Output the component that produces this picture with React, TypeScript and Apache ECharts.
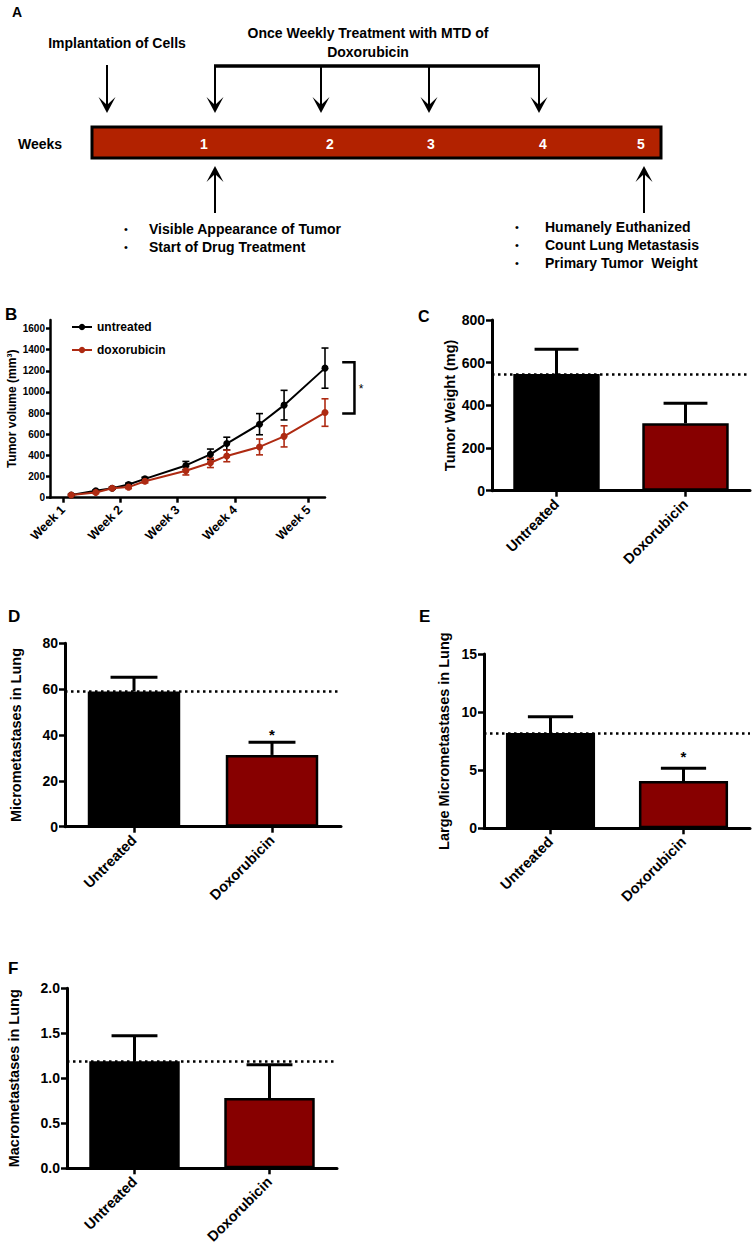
import React, { useEffect, useRef } from 'react';
import * as echarts from 'echarts';

// ---------- Panel B data ----------
const dayValues = [8, 11, 13, 15, 17, 22, 25, 27, 31, 34, 39];
const untreatedVolume = [25, 65, 90, 125, 178, 305, 410, 512, 695, 875, 1225];
const untreatedVolumeSem = [8, 10, 10, 12, 15, 38, 50, 60, 100, 140, 190];
const doxVolume = [25, 50, 90, 100, 155, 255, 330, 395, 480, 580, 805];
const doxVolumeSem = [8, 10, 10, 14, 15, 40, 45, 55, 75, 100, 130];
const weekTickDays = [7, 14, 21, 28, 37];
const weekLabels = ['Week 1', 'Week 2', 'Week 3', 'Week 4', 'Week 5'];
const volumeTicks = [0, 200, 400, 600, 800, 1000, 1200, 1400, 1600];
const bracketDays = [41.1, 42.6];
const bracketValues = [1280, 795];
const bracketStar = [43.4, 1027];

// ---------- Bar panels data ----------
const groups = ['Untreated', 'Doxorubicin'];
const tumorWeight = [547, 316];
const tumorWeightSem = [116, 94];
const micrometastases = [59, 31.3];
const micrometastasesSem = [6.2, 5.5];
const largeMicrometastases = [8.2, 4.07];
const largeMicrometastasesSem = [1.4, 1.09];
const macrometastases = [1.19, 0.78];
const macrometastasesSem = [0.283, 0.37];
const starD = 40.2;
const starE = 6.2;

// ---------- Timeline (panel A) labels ----------
const weekNumbers = ['1', '2', '3', '4', '5'];

const FONT = '"Liberation Sans", Arial, Helvetica, sans-serif';
const RED_LINE = '#AE2A12';
const RED_BAR = '#870000';
const TIMELINE_RED = '#B22200';

function arrowDown(x: number, y1: number, tip: number) {
  return [
    { type: 'line', shape: { x1: x, y1, x2: x, y2: tip - 6 }, style: { stroke: '#000', lineWidth: 2 } },
    {
      type: 'polygon',
      shape: { points: [[x, tip], [x - 8.5, tip - 16], [x, tip - 8], [x + 8.5, tip - 16]] },
      style: { fill: '#000' },
    },
  ];
}
function arrowUp(x: number, y1: number, tip: number) {
  return [
    { type: 'line', shape: { x1: x, y1, x2: x, y2: tip + 6 }, style: { stroke: '#000', lineWidth: 2 } },
    {
      type: 'polygon',
      shape: { points: [[x, tip], [x - 8.5, tip + 16], [x, tip + 8], [x + 8.5, tip + 16]] },
      style: { fill: '#000' },
    },
  ];
}
function txt(text: string, x: number, y: number, size: number, align = 'left', fill = '#000', weight = 'bold') {
  return {
    type: 'text',
    x,
    y,
    style: { text, fontSize: size, fontWeight: weight, fontFamily: FONT, fill, align, verticalAlign: 'middle' },
  };
}

type BarCfg = {
  left: number; top: number; width: number; height: number;
  max: number; interval: number; name: string; nameGap: number;
  values: number[]; sems: number[]; star?: number; decimals?: number;
};

function buildBarPanel(idx: number, cfg: BarCfg) {
  const grid = { left: cfg.left, top: cfg.top, width: cfg.width, height: cfg.height };
  const xAxis = {
    type: 'category', gridIndex: idx, data: groups,
    axisLine: { show: true, lineStyle: { color: '#000', width: 3 } },
    axisTick: { show: true, alignWithLabel: true, length: 6, lineStyle: { color: '#000', width: 2.5 } },
    axisLabel: { interval: 0, rotate: 45, fontSize: 14.5, fontWeight: 'bold', color: '#000', fontFamily: FONT, margin: 11 },
    splitLine: { show: false },
  };
  const yAxis = {
    type: 'value', gridIndex: idx, min: 0, max: cfg.max, interval: cfg.interval,
    axisLine: { show: true, lineStyle: { color: '#000', width: 3 } },
    axisTick: { show: true, length: 6, lineStyle: { color: '#000', width: 2.5 } },
    axisLabel: {
      fontSize: 14, fontWeight: 'bold', color: '#000', fontFamily: FONT, margin: 7,
      formatter: (v: number) => (cfg.decimals ? v.toFixed(cfg.decimals) : String(v)),
    },
    splitLine: { show: false },
    name: cfg.name, nameLocation: 'middle', nameGap: cfg.nameGap,
    nameTextStyle: { fontSize: 14.5, fontWeight: 'bold', color: '#000', fontFamily: FONT },
  };
  const series: any[] = [
    {
      type: 'bar', xAxisIndex: idx, yAxisIndex: idx,
      data: cfg.values.map((v, i) => ({ value: v, itemStyle: { color: i === 0 ? '#000' : RED_BAR } })),
      barWidth: '67%',
      itemStyle: { borderColor: '#000', borderWidth: 2.5 },
      markLine: {
        silent: true, symbol: ['none', 'none'], label: { show: false },
        lineStyle: { color: '#000', width: 2.5, type: [2.5, 3.5] },
        data: [{ yAxis: cfg.values[0] }],
      },
      z: 2,
    },
    {
      type: 'custom', xAxisIndex: idx, yAxisIndex: idx,
      data: cfg.values.map((v, i) => [i, v, cfg.sems[i]]),
      renderItem: (params: any, api: any) => {
        const x = api.value(0), m = api.value(1), e = api.value(2);
        const base = api.coord([x, m]);
        const top = api.coord([x, m + e]);
        const hw = api.size([1, 0])[0] * 0.17;
        const style = { stroke: '#000', lineWidth: 3 };
        return {
          type: 'group',
          children: [
            { type: 'line', shape: { x1: base[0], y1: base[1], x2: top[0], y2: top[1] }, style },
            { type: 'line', shape: { x1: top[0] - hw, y1: top[1], x2: top[0] + hw, y2: top[1] }, style },
          ],
        };
      },
      z: 3,
    },
  ];
  if (cfg.star !== undefined) {
    series.push({
      type: 'custom', xAxisIndex: idx, yAxisIndex: idx,
      data: [[1, cfg.star]],
      renderItem: (params: any, api: any) => {
        const p = api.coord([api.value(0), api.value(1)]);
        return {
          type: 'text', x: p[0], y: p[1],
          style: { text: '*', fontSize: 15, fontWeight: 'bold', fill: '#000', fontFamily: FONT, align: 'center', verticalAlign: 'middle' },
        };
      },
      z: 4,
    });
  }
  return { grid, xAxis, yAxis, series };
}

function errorRenderer(color: string) {
  return (params: any, api: any) => {
    const x = api.value(0), m = api.value(1), e = api.value(2);
    const p1 = api.coord([x, m + e]);
    const p2 = api.coord([x, m - e]);
    const hw = 3.5;
    const style = { stroke: color, lineWidth: 1.6 };
    return {
      type: 'group',
      children: [
        { type: 'line', shape: { x1: p1[0], y1: p1[1], x2: p2[0], y2: p2[1] }, style },
        { type: 'line', shape: { x1: p1[0] - hw, y1: p1[1], x2: p1[0] + hw, y2: p1[1] }, style },
        { type: 'line', shape: { x1: p2[0] - hw, y1: p2[1], x2: p2[0] + hw, y2: p2[1] }, style },
      ],
    };
  };
}

export default function App() {
  const ref = useRef<HTMLDivElement>(null);
  useEffect(() => {
    if (!ref.current) return;
    const chart = echarts.init(ref.current, undefined, { renderer: 'svg' });

    const panels = [
      buildBarPanel(1, { left: 492, top: 320, width: 258, height: 170.7, max: 800, interval: 200, name: 'Tumor Weight (mg)', nameGap: 31, values: tumorWeight, sems: tumorWeightSem }),
      buildBarPanel(2, { left: 65, top: 643.3, width: 276, height: 183.4, max: 80, interval: 20, name: 'Micrometastases in Lung', nameGap: 42, values: micrometastases, sems: micrometastasesSem, star: starD }),
      buildBarPanel(3, { left: 484, top: 654, width: 266, height: 174.3, max: 15, interval: 5, name: 'Large Micrometastases in Lung', nameGap: 33, values: largeMicrometastases, sems: largeMicrometastasesSem, star: starE }),
      buildBarPanel(4, { left: 67, top: 988.3, width: 270, height: 180, max: 2, interval: 0.5, name: 'Macrometastases in Lung', nameGap: 46, values: macrometastases, sems: macrometastasesSem, decimals: 1 }),
    ];

    const graphics: any[] = [
      txt('A', 12, 12, 14),
      txt('Implantation of Cells', 117, 43, 14, 'center'),
      txt('Once Weekly Treatment with MTD of', 368, 33, 14, 'center'),
      txt('Doxorubicin', 368, 52, 14, 'center'),
      { type: 'line', shape: { x1: 214, y1: 66, x2: 540, y2: 66 }, style: { stroke: '#000', lineWidth: 3.5 } },
      ...arrowDown(107, 65, 113),
      ...arrowDown(215, 66, 113),
      ...arrowDown(321, 66, 113),
      ...arrowDown(429, 66, 113),
      ...arrowDown(539, 66, 113),
      { type: 'rect', shape: { x: 92, y: 127, width: 569, height: 31 }, style: { fill: TIMELINE_RED, stroke: '#000', lineWidth: 3 } },
      txt('Weeks', 40, 144, 14, 'center'),
      txt(weekNumbers[0], 204, 144, 14, 'center', '#fff'),
      txt(weekNumbers[1], 330, 144, 14, 'center', '#fff'),
      txt(weekNumbers[2], 431, 144, 14, 'center', '#fff'),
      txt(weekNumbers[3], 543, 144, 14, 'center', '#fff'),
      txt(weekNumbers[4], 641, 144, 14, 'center', '#fff'),
      ...arrowUp(215, 213, 166),
      ...arrowUp(644, 213, 166),
      txt('•', 126, 229, 11, 'center', '#000', 'normal'),
      txt('Visible Appearance of Tumor', 149, 229, 14),
      txt('•', 126, 247, 11, 'center', '#000', 'normal'),
      txt('Start of Drug Treatment', 149, 247, 14),
      txt('•', 517, 227, 11, 'center', '#000', 'normal'),
      txt('Humanely Euthanized', 545, 227, 14),
      txt('•', 517, 245, 11, 'center', '#000', 'normal'),
      txt('Count Lung Metastasis', 545, 245, 14),
      txt('•', 517, 263, 11, 'center', '#000', 'normal'),
      txt('Primary Tumor  Weight', 545, 263, 14),
      txt('B', 5, 314, 17),
      txt('C', 418, 316, 16),
      txt('D', 8, 616, 17),
      txt('E', 419, 616, 17),
      txt('F', 8, 968, 17),
    ];

    const option: any = {
      animation: false,
      backgroundColor: '#fff',
      textStyle: { fontFamily: FONT },
      legend: {
        data: ['untreated', 'doxorubicin'],
        orient: 'vertical', left: 66, top: 316,
        itemWidth: 20, itemHeight: 8, itemGap: 11,
        textStyle: { fontSize: 12, fontWeight: 'bold', color: '#000', fontFamily: FONT },
      },
      grid: [
        { left: 50, top: 320, width: 275, height: 177.7 },
        ...panels.map((p) => p.grid),
      ],
      xAxis: [
        {
          type: 'value', gridIndex: 0, min: 5.4, max: 39,
          axisLine: { show: true, onZero: false, lineStyle: { color: '#000', width: 2.5 } },
          axisTick: { show: true, length: 5, customValues: weekTickDays, lineStyle: { color: '#000', width: 2.5 } },
          axisLabel: {
            customValues: weekTickDays, rotate: 45, fontSize: 12.5, fontWeight: 'bold', color: '#000', fontFamily: FONT, margin: 10,
            formatter: (v: number) => weekLabels[weekTickDays.indexOf(v)] ?? '',
          },
          splitLine: { show: false },
        },
        ...panels.map((p) => p.xAxis),
      ],
      yAxis: [
        {
          type: 'value', gridIndex: 0, min: 0, max: 1680,
          axisLine: { show: true, lineStyle: { color: '#000', width: 2.5 } },
          axisTick: { show: true, length: 4, customValues: volumeTicks, lineStyle: { color: '#000', width: 2.5 } },
          axisLabel: {
            customValues: volumeTicks, fontSize: 10, fontWeight: 'bold', color: '#000', fontFamily: FONT, margin: 5,
            formatter: (v: number) => String(v),
          },
          splitLine: { show: false },
          name: 'Tumor volume (mm³)', nameLocation: 'middle', nameGap: 32,
          nameTextStyle: { fontSize: 12, fontWeight: 'bold', color: '#000', fontFamily: FONT },
        },
        ...panels.map((p) => p.yAxis),
      ],
      series: [
        {
          name: 'untreated-err', type: 'custom', xAxisIndex: 0, yAxisIndex: 0,
          data: dayValues.map((d, i) => [d, untreatedVolume[i], untreatedVolumeSem[i]]),
          renderItem: errorRenderer('#000'), z: 2,
        },
        {
          name: 'doxorubicin-err', type: 'custom', xAxisIndex: 0, yAxisIndex: 0,
          data: dayValues.map((d, i) => [d, doxVolume[i], doxVolumeSem[i]]),
          renderItem: errorRenderer(RED_LINE), z: 2,
        },
        {
          name: 'untreated', type: 'line', xAxisIndex: 0, yAxisIndex: 0,
          data: dayValues.map((d, i) => [d, untreatedVolume[i]]),
          symbol: 'circle', symbolSize: 7, showAllSymbol: true,
          color: '#000', lineStyle: { color: '#000', width: 2 }, itemStyle: { color: '#000' }, z: 3,
        },
        {
          name: 'doxorubicin', type: 'line', xAxisIndex: 0, yAxisIndex: 0,
          data: dayValues.map((d, i) => [d, doxVolume[i]]),
          symbol: 'circle', symbolSize: 7, showAllSymbol: true,
          color: RED_LINE, lineStyle: { color: RED_LINE, width: 2 }, itemStyle: { color: RED_LINE }, z: 4,
        },
        {
          name: 'bracket', type: 'custom', xAxisIndex: 0, yAxisIndex: 0,
          data: [[bracketDays[0], bracketValues[0], bracketDays[1], bracketValues[1], bracketStar[0], bracketStar[1]]],
          renderItem: (params: any, api: any) => {
            const x0 = api.value(0), yTop = api.value(1), x1 = api.value(2), yBot = api.value(3);
            const a = api.coord([x0, yTop]);
            const b = api.coord([x1, yTop]);
            const c = api.coord([x1, yBot]);
            const d = api.coord([x0, yBot]);
            const s = api.coord([api.value(4), api.value(5)]);
            return {
              type: 'group',
              children: [
                { type: 'polyline', shape: { points: [a, b, c, d] }, style: { stroke: '#000', lineWidth: 2.5, fill: 'none' } },
                { type: 'text', x: s[0], y: s[1], style: { text: '*', fontSize: 12, fill: '#000', fontFamily: FONT, align: 'center', verticalAlign: 'middle' } },
              ],
            };
          },
          silent: true,
        },
        ...panels.flatMap((p) => p.series),
      ],
      graphic: graphics,
    };
    chart.setOption(option);
    return () => chart.dispose();
  }, []);
  return <div ref={ref} style={{ position: 'absolute', left: 0, top: 0, width: 753, height: 1250 }} />;
}
